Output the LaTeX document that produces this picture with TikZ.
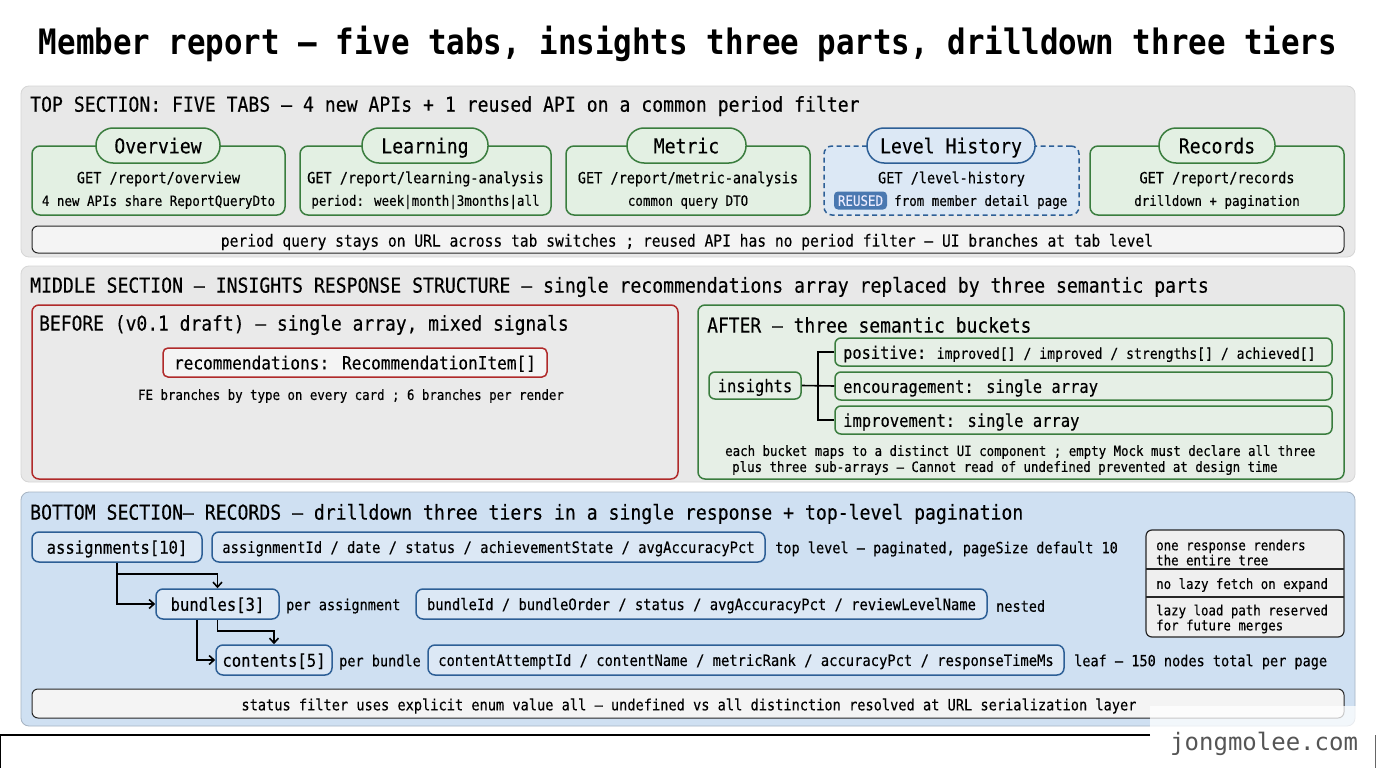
\documentclass[tikz,border=0pt]{standalone}
\usepackage{fontspec}
\setmainfont{DejaVu Sans Mono}[FakeStretch=0.88, FakeBold=0.3]
\newfontfamily\titlefont{DejaVu Sans Mono}[FakeStretch=0.88]
\newfontfamily\wmfont{DejaVu Sans Mono}
\usetikzlibrary{arrows.meta}

\definecolor{secgray}{HTML}{E8E8E8}
\definecolor{secline}{HTML}{D6D6D6}
\definecolor{grn}{HTML}{3A7D3E}
\definecolor{grnfill}{HTML}{E3F0E3}
\definecolor{grnbox}{HTML}{E6EFE6}
\definecolor{blu}{HTML}{2D5F96}
\definecolor{blufill}{HTML}{DCE8F5}
\definecolor{secblue}{HTML}{CFE0F2}
\definecolor{badge}{HTML}{4A78B0}
\definecolor{redb}{HTML}{B02A2A}
\definecolor{notefill}{HTML}{F4F4F4}
\definecolor{wmgray}{HTML}{555555}

\newcommand\fsz[2]{\fontsize{#1}{#2}\selectfont}

\tikzset{
  sec/.style={draw=secline, fill=secgray, rounded corners=8, line width=0.8, inner sep=0},
  card/.style={draw=grn, fill=grnfill, rounded corners=8, line width=1.5, inner sep=0, minimum height=69},
  pill/.style={draw=grn, fill=grnfill, rounded corners=17, line width=1.5, inner sep=0, minimum height=35, text depth=0pt, font=\fsz{20.6}{24}},
  cardtxt/.style={inner sep=0, yshift=-2, font=\fsz{15.4}{18}},
  cardsub/.style={inner sep=0, yshift=-2, font=\fsz{14.2}{17}},
  head/.style={anchor=west, inner sep=0, yshift=-2, font=\fsz{20.6}{24}},
  notebar/.style={draw=black!85, fill=notefill, rounded corners=6, line width=1, inner sep=0},
  gbox/.style={draw=grn, fill=grnbox, rounded corners=6, line width=1.5, inner sep=0, text depth=0pt},
  bbox/.style={draw=blu, fill=blufill, rounded corners=7, line width=1.5, inner sep=0, text depth=0pt},
  plain/.style={inner sep=0, yshift=-2},
  tree/.style={line width=1.6, black},
  arr/.style={line width=1.6, black, -{Straight Barb[length=5,width=9]}},
}

\begin{document}
\begin{tikzpicture}[x=1pt,y=-1pt]
\useasboundingbox (0,0) rectangle (1376,768);
\fill[white] (0,0) rectangle (1376,768);

% title
\node[plain, font=\titlefont\fsz{35}{40}\bfseries] (title) at (688,42) {Member report — five tabs, insights three parts, drilldown three tiers};

% ================= TOP SECTION =================
\node[sec, minimum width=1334, minimum height=171] (top) at (688,171.5) {};
\node[head] (tophead) at (30,104) {TOP SECTION: FIVE TABS — 4 new APIs + 1 reused API on a common period filter};

\node[card, minimum width=253] (c1) at (158.5,180.5) {};
\node[card, minimum width=251] (c2) at (425.5,180.5) {};
\node[card, minimum width=244] (c3) at (688,180.5) {};
\node[card, minimum width=255, draw=blu, fill=blufill, dash pattern=on 5pt off 3.5pt] (c4) at (951.5,180.5) {};
\node[card, minimum width=254] (c5) at (1217,180.5) {};

\node[pill, minimum width=124] (p1) at (158,145.5) {Overview};
\node[pill, minimum width=126] (p2) at (425,145.5) {Learning};
\node[pill, minimum width=119] (p3) at (686.5,145.5) {Metric};
\node[pill, minimum width=168, draw=blu, fill=blufill] (p4) at (951,145.5) {Level History};
\node[pill, minimum width=116] (p5) at (1217,145.5) {Records};

\node[cardtxt] (t1a) at (158.5,177) {GET /report/overview};
\node[cardsub] (t1b) at (158.5,200) {4 new APIs share ReportQueryDto};
\node[cardtxt] (t2a) at (425.5,177) {GET /report/learning-analysis};
\node[cardsub] (t2b) at (425.5,200) {period: week|month|3months|all};
\node[cardtxt] (t3a) at (688,177) {GET /report/metric-analysis};
\node[cardsub] (t3b) at (688,200) {common query DTO};
\node[cardtxt] (t4a) at (951.5,177) {GET /level-history};
\node[fill=badge, rounded corners=4, inner sep=0, minimum width=53, minimum height=18, text depth=0pt, text=white!92!blue, font=\fsz{14.2}{17}] (reused) at (860.5,200.5) {REUSED};
\node[cardsub, anchor=west] (t4b) at (894,200) {from member detail page};
\node[cardtxt] (t5a) at (1217,177) {GET /report/records};
\node[cardsub] (t5b) at (1217,200) {drilldown + pagination};

\node[notebar, minimum width=1312, minimum height=27] (bar1) at (688,239.5) {};
\node[plain, font=\fsz{16.6}{20}] (bar1t) at (687,240) {period query stays on URL across tab switches ; reused API has no period filter — UI branches at tab level};

% ================= MIDDLE SECTION =================
\node[sec, minimum width=1334, minimum height=216] (mid) at (688,374) {};
\node[head] (midhead) at (30,285) {MIDDLE SECTION — INSIGHTS RESPONSE STRUCTURE — single recommendations array replaced by three semantic parts};

\node[draw=redb, fill=secgray!90!white, rounded corners=7, line width=1.5, inner sep=0, minimum width=646, minimum height=174] (before) at (355,392) {};
\node[head, font=\fsz{20.4}{24}] (beforet) at (39,323) {BEFORE (v0.1 draft) — single array, mixed signals};
\node[draw=redb, fill=notefill, rounded corners=5, line width=1.5, inner sep=0, minimum width=384, minimum height=29, text depth=0pt, font=\fsz{18.3}{22}] (recs) at (355,362.5) {recommendations: RecommendationItem[]};
\node[plain, font=\fsz{14.1}{17}] (fe) at (351,394) {FE branches by type on every card ; 6 branches per render};

\node[draw=grn, fill=grnbox, rounded corners=7, line width=1.5, inner sep=0, minimum width=646, minimum height=174] (after) at (1021,392) {};
\node[head, font=\fsz{20.4}{24}] (aftert) at (707,323) {AFTER — three semantic buckets};
\node[gbox, minimum width=92, minimum height=27, font=\fsz{17.6}{21}] (ins) at (755,385.5) {insights};
\node[gbox, minimum width=497, minimum height=28] (pos) at (1083.5,352) {};
\node[gbox, minimum width=497, minimum height=28] (enc) at (1083.5,386) {};
\node[gbox, minimum width=497, minimum height=28] (imp) at (1083.5,420) {};
\node[plain, anchor=west] (post) at (843,352) {\fsz{17.4}{21}positive:\fsz{14.9}{19} improved[] / improved / strengths[] / achieved[]};
\node[plain, anchor=west, font=\fsz{17.6}{21}] (enct) at (843,386) {encouragement: single array};
\node[plain, anchor=west, font=\fsz{17.6}{21}] (impt) at (843,420) {improvement: single array};
\coordinate (jn) at (818,386);
\draw[tree] (pos.west) -| (jn) |- (imp.west);
\draw[tree] (ins.east) -- (enc.west);
\node[plain, anchor=west, font=\fsz{14.1}{17}] (n1) at (725,450) {each bucket maps to a distinct UI component ; empty Mock must declare all three};
\node[plain, anchor=west, font=\fsz{14.1}{17}] (n2) at (732,466) {plus three sub-arrays — Cannot read of undefined prevented at design time};

% ================= BOTTOM SECTION =================
\node[sec, draw=secblue!80!black, fill=secblue, minimum width=1334, minimum height=234] (bot) at (688,609) {};
\node[head] (bothead) at (30,512) {BOTTOM SECTION— RECORDS — drilldown three tiers in a single response + top-level pagination};

\node[bbox, minimum width=170, minimum height=30, font=\fsz{17.7}{21}] (asg) at (117,547) {assignments[10]};
\node[bbox, minimum width=553, minimum height=30, font=\fsz{15.7}{19}] (f1) at (488.5,547) {assignmentId / date / status / achievementState / avgAccuracyPct};
\node[plain, anchor=west, font=\fsz{15.4}{19}] (l1) at (775,547) {top level — paginated, pageSize default 10};

\node[bbox, minimum width=123, minimum height=30, font=\fsz{17.7}{21}] (bnd) at (217.5,604) {bundles[3]};
\node[plain, anchor=west, font=\fsz{15.4}{19}] (l2a) at (286,604) {per assignment};
\node[bbox, minimum width=571, minimum height=30, font=\fsz{15.7}{19}] (f2) at (701.5,604) {bundleId / bundleOrder / status / avgAccuracyPct / reviewLevelName};
\node[plain, anchor=west, font=\fsz{15.4}{19}] (l2b) at (996,604) {nested};

\node[bbox, minimum width=116, minimum height=30, font=\fsz{17.7}{21}] (cnt) at (274,660) {contents[5]};
\node[plain, anchor=west, font=\fsz{15.4}{19}] (l3a) at (339,660) {per bundle};
\node[bbox, minimum width=636, minimum height=30, font=\fsz{15.7}{19}] (f3) at (746,660) {contentAttemptId / contentName / metricRank / accuracyPct / responseTimeMs};
\node[plain, anchor=west, font=\fsz{15.4}{19}] (l3b) at (1074,660) {leaf — 150 nodes total per page};

\coordinate (a1) at (117,574);
\coordinate (b1) at (217.5,631);
\draw[arr] (asg.south) |- (bnd.west);
\draw[arr] (a1) -| (bnd.north);
\draw[arr] ([xshift=-20.5]bnd.south) |- (cnt.west);
\draw[arr] (bnd.south) -- (b1) -| (cnt.north);

\node[draw=black!85, fill=secgray!70!white, rounded corners=6, line width=1.2, inner sep=0, minimum width=198, minimum height=107] (nb) at (1245,583.5) {};
\coordinate (d1l) at (1146,569); \coordinate (d1r) at (1344,569);
\coordinate (d2l) at (1146,597); \coordinate (d2r) at (1344,597);
\draw[line width=1.2, black!85] (d1l) -- (d1r);
\draw[line width=1.2, black!85] (d2l) -- (d2r);
\node[plain, anchor=west, align=left, font=\fsz{14.1}{15}] (nb1) at (1156,550.5) {one response renders\\the entire tree};
\node[plain, anchor=west, font=\fsz{14.1}{15}] (nb2) at (1156,583) {no lazy fetch on expand};
\node[plain, anchor=west, align=left, font=\fsz{14.1}{15}] (nb3) at (1156,617) {lazy load path reserved\\for future merges};

\node[notebar, minimum width=1312, minimum height=29] (bar2) at (688,703.5) {};
\node[plain, font=\fsz{15.5}{19}] (bar2t) at (689,704) {status filter uses explicit enum value all — undefined vs all distinction resolved at URL serialization layer};

% bottom frame and watermark
\draw[line width=1.2, black] (1150,735) -- (0.6,735) -- (0.6,768);
\draw[line width=1, black!60] (1375,735) -- (1375,768);
\fill[white, opacity=0.75] (1150,706) rectangle (1376,735);
\node[plain, anchor=west, text=wmgray, font=\wmfont\fontsize{24}{28}\selectfont] (wm) at (1170,742) {jongmolee.com};
\end{tikzpicture}
\end{document}
